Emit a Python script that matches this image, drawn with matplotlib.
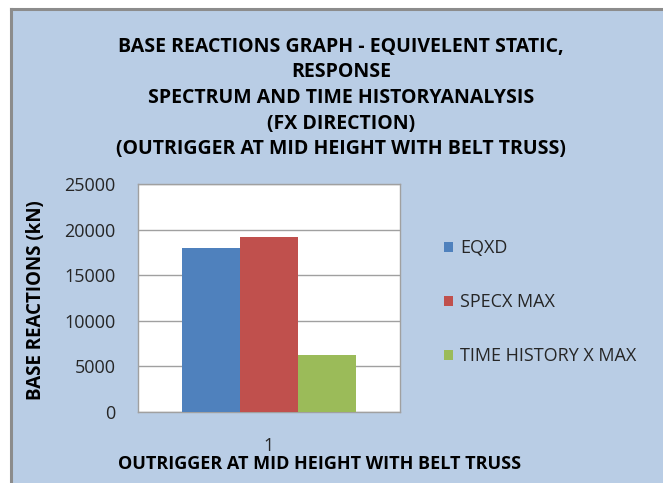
import matplotlib
matplotlib.use("Agg")
import matplotlib.pyplot as plt
from matplotlib.patches import Rectangle
import numpy as np

categories = ["1"]
series_names = ["EQXD", "SPECX MAX", "TIME HISTORY X MAX"]
series_values = [[17950], [19200], [6250]]
colors = ["#4F81BD", "#C0504D", "#9BBB59"]
yticks = [0, 5000, 10000, 15000, 20000, 25000]

title = ("BASE REACTIONS GRAPH - EQUIVELENT STATIC,\nRESPONSE\n"
         "SPECTRUM AND TIME HISTORYANALYSIS\n(FX DIRECTION)\n"
         "(OUTRIGGER AT MID HEIGHT WITH BELT TRUSS)")
xlabel = "OUTRIGGER AT MID HEIGHT WITH BELT TRUSS"
ylabel = "BASE REACTIONS (kN)"

plt.rcParams['font.family'] = ['Open Sans', 'DejaVu Sans']

W, H = 663, 483
fig = plt.figure(figsize=(W/100, H/100), dpi=100)
fig.patch.set_facecolor("white")

# chart background with border
bg = Rectangle((11/W, 0), 1 - 11/W, 1 - 9/H, transform=fig.transFigure,
               facecolor="#B9CDE5", edgecolor="none", zorder=-10)
fig.add_artist(bg)
fig.add_artist(plt.Line2D([10.5/W, 10.5/W], [0, 1 - 8.5/H], transform=fig.transFigure,
                          color="#8C8C8C", lw=2.2, zorder=-5))
fig.add_artist(plt.Line2D([10.5/W, 1], [1 - 8.5/H, 1 - 8.5/H], transform=fig.transFigure,
                          color="#8C8C8C", lw=2.2, zorder=-5))

left, right, top, bottom = 138, 400, 184, 412
ax = fig.add_axes([left/W, 1 - bottom/H, (right-left)/W, (bottom-top)/H])
ax.set_facecolor("white")

n = len(series_names)
x = np.arange(len(categories))
bw = 0.222
for i, (name, vals, c) in enumerate(zip(series_names, series_values, colors)):
    ax.bar(x + (i - (n-1)/2) * bw, vals, width=bw, color=c, label=name, zorder=3)

ax.set_xlim(-0.5, 0.5)
ax.set_ylim(0, 25000)
ax.set_yticks(yticks)
ax.set_yticklabels([str(v) for v in yticks], fontsize=13, color="#262626")
ax.set_xticks(x)
ax.set_xticklabels(categories, fontsize=13, color="#262626")
ax.tick_params(axis='y', length=0, pad=16)
ax.tick_params(axis='x', length=0, pad=18)
ax.grid(axis='y', color="#A0A0A0", lw=1, zorder=0)
for s in ax.spines.values():
    s.set_color("#A0A0A0")
    s.set_linewidth(1)

fig.text(341/W, 1 - 98/H, title, ha="center", va="center", fontsize=14,
         fontweight="bold", color="black", linespacing=1.38)
fig.text(320/W, 1 - 464/H, xlabel, ha="center", va="center", fontsize=13,
         fontweight="bold", color="black")
fig.text(36/W, 1 - 300/H, ylabel, ha="center", va="center", fontsize=13.5,
         fontweight="bold", color="black", rotation=90)

leg = fig.legend(loc="upper left", bbox_to_anchor=(428/W, 1 - 223/H),
                 frameon=False, fontsize=13, handlelength=0.5, handleheight=0.5,
                 labelspacing=2.0, handletextpad=0.4)
for t in leg.get_texts():
    t.set_color("#262626")

fig.savefig("out.png", dpi=100)
